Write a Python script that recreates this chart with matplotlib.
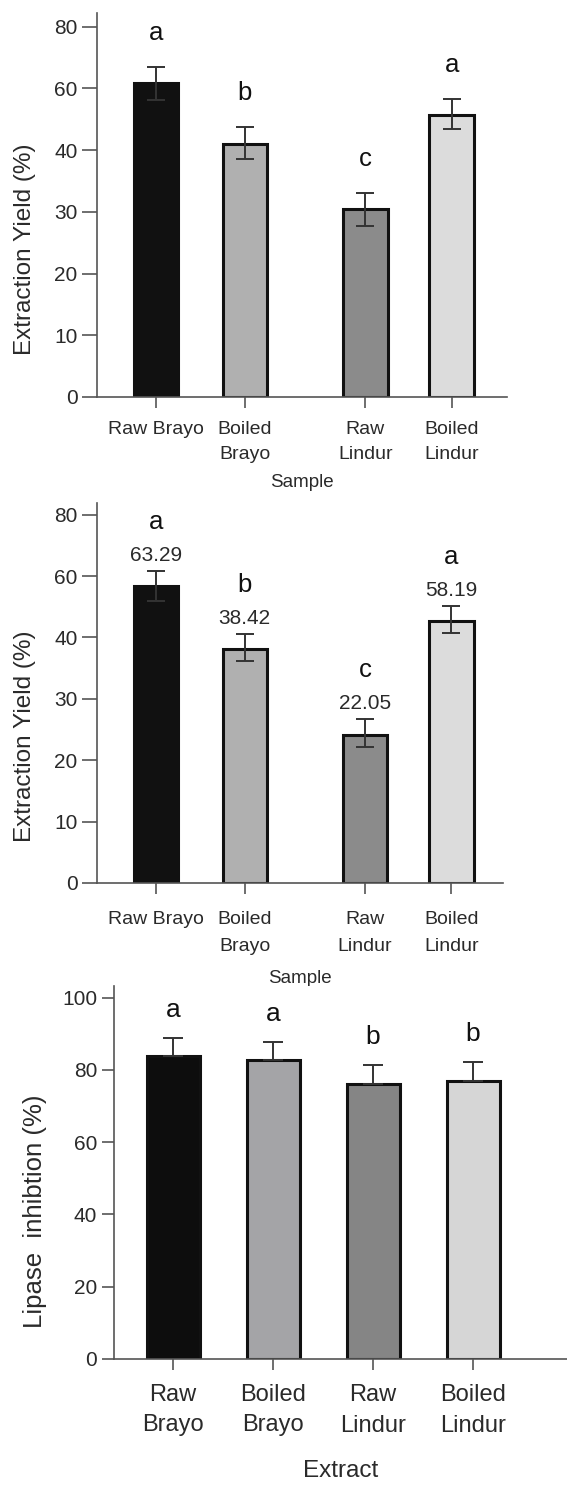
import numpy as np
import matplotlib
matplotlib.use("Agg")
import matplotlib.pyplot as plt

plt.rcParams['font.family'] = ['Liberation Sans', 'DejaVu Sans']

# Data
samples_12 = ['Raw Brayo', 'Boiled\nBrayo', 'Raw\nLindur', 'Boiled\nLindur']
samples_3 = ['Raw\nBrayo', 'Boiled\nBrayo', 'Raw\nLindur', 'Boiled\nLindur']

yield1 = [61.6, 42.0, 30.4, 51.2]
yield1_err_lo = [5.4, 3.5, 2.7, 4.4]
yield1_err_hi = [5.4, 5.6, 2.7, 5.4]
letters1 = ['a', 'b', 'c', 'a']

yield2 = [56.8, 38.1, 24.1, 45.4]
yield2_err_lo = [5.0, 2.0, 1.9, 4.0]
yield2_err_hi = [5.0, 3.0, 2.6, 4.9]
yield2_labels = ['63.29', '38.42', '22.05', '58.19']
letters2 = ['a', 'b', 'c', 'a']

lipase = [83.7, 82.6, 76.0, 76.9]
lipase_err = [5.2, 5.1, 5.3, 5.3]
letters3 = ['a', 'a', 'b', 'b']

yticks_12 = [0, 10, 20, 30, 40, 60, 80]

colors_12 = ['#111111', '#b0b0b0', '#8b8b8b', '#dcdcdc']
colors_3 = ['#0d0d0d', '#a4a4a7', '#858585', '#d6d6d6']
AX_COL = '#555555'
TXT_COL = '#2a2a2a'

# the yield panels use evenly spaced ticks 0,10,20,30,40,60,80
_v = np.array([0, 10, 20, 30, 40, 60, 80, 100], dtype=float)
_p = np.arange(len(_v), dtype=float)


def fwd(v):
    return np.interp(v, _v, _p)


def inv(p):
    return np.interp(p, _p, _v)


W, H = 567, 1494
fig = plt.figure(figsize=(W / 100, H / 100), dpi=100)


def px_axes(left, right, top, bottom):
    return fig.add_axes([left / W, 1 - bottom / H, (right - left) / W, (bottom - top) / H])


def style(ax, ytick_len, fs_y, xpad):
    for s in ['top', 'right']:
        ax.spines[s].set_visible(False)
    for s in ['left', 'bottom']:
        ax.spines[s].set_color(AX_COL)
        ax.spines[s].set_linewidth(1.2)
    ax.tick_params(axis='y', length=ytick_len, width=1.2, color=AX_COL,
                   labelsize=fs_y, labelcolor=TXT_COL, pad=3)
    ax.tick_params(axis='x', length=8, width=1.2, color=AX_COL, labelcolor=TXT_COL, pad=xpad)


def yield_panel(ax, x, vals, lo, hi, letters, ymax, linesp, xlabpad, value_labels=None):
    ax.set_yscale('function', functions=(fwd, inv))
    ax.bar(x, vals, width=0.5, color=colors_12, edgecolor='#111111', linewidth=2.2, zorder=2)
    ax.errorbar(x, vals, yerr=[lo, hi], fmt='none', ecolor='#333333',
                elinewidth=1.4, capsize=6.5, capthick=1.4, zorder=3)
    for i in range(len(x)):
        top = vals[i] + hi[i]
        if value_labels is not None:
            ax.annotate(value_labels[i], xy=(x[i], top), xytext=(0, 11),
                        textcoords='offset points', ha='center', va='center',
                        fontsize=15, color=TXT_COL)
            off = 35
        else:
            off = 24
        ax.annotate(letters[i], xy=(x[i], top), xytext=(0, off),
                    textcoords='offset points', ha='center', va='center',
                    fontsize=18.5, color='#111111')
    ax.set_ylim(0, ymax)
    ax.set_yticks(yticks_12)
    ax.set_yticklabels([str(t) for t in yticks_12])
    ax.set_xticks(x)
    ax.set_xticklabels(samples_12, fontsize=14, linespacing=linesp)
    ax.set_ylabel('Extraction Yield (%)', fontsize=17.5, color=TXT_COL, labelpad=13)
    ax.yaxis.label.set_y(0.385)
    ax.set_xlabel('Sample', fontsize=13.5, color=TXT_COL, labelpad=xlabpad)


x12 = np.array([0, 1, 2.35, 3.32])

# Panel 1
ax1 = px_axes(97, 507, 13, 397)
style(ax1, 11, 15, 9)
yield_panel(ax1, x12, yield1, yield1_err_lo, yield1_err_hi, letters1, 84.4, 1.62, 8)
ax1.set_xlim(-0.66, 3.94)

# Panel 2
ax2 = px_axes(97, 503, 503, 883)
style(ax2, 11, 15, 12)
yield_panel(ax2, x12, yield2, yield2_err_lo, yield2_err_hi, letters2, 83.8, 1.8, 11,
            value_labels=yield2_labels)
ax2.set_xlim(-0.66, 3.9)

# Panel 3
x3 = np.arange(4)
ax3 = px_axes(114, 567, 986, 1359)
style(ax3, 9, 15, 10)
ax3.bar(x3, lipase, width=0.53, color=colors_3, edgecolor='#111111', linewidth=2.2, zorder=2)
ax3.errorbar(x3, lipase, yerr=[np.zeros(4), lipase_err], fmt='none', ecolor='#333333',
             elinewidth=1.4, capsize=7, capthick=1.4, zorder=3)
for i in range(4):
    ax3.annotate(letters3[i], xy=(x3[i], lipase[i] + lipase_err[i]), xytext=(0, 20),
                 textcoords='offset points', ha='center', va='center',
                 fontsize=19, color='#111111')
ax3.set_ylim(0, 103.2)
ax3.set_yticks([0, 20, 40, 60, 80, 100])
ax3.set_xlim(-0.59, 3.94)
ax3.set_xticks(x3)
ax3.set_xticklabels(samples_3, fontsize=17, linespacing=1.5)
ax3.set_ylabel('Lipase  inhibtion (%)', fontsize=18.5, color=TXT_COL, labelpad=11)
ax3.yaxis.label.set_y(0.395)
ax3.set_xlabel('Extract', fontsize=17.5, color=TXT_COL, labelpad=17)

fig.savefig('out.png', dpi=100)
